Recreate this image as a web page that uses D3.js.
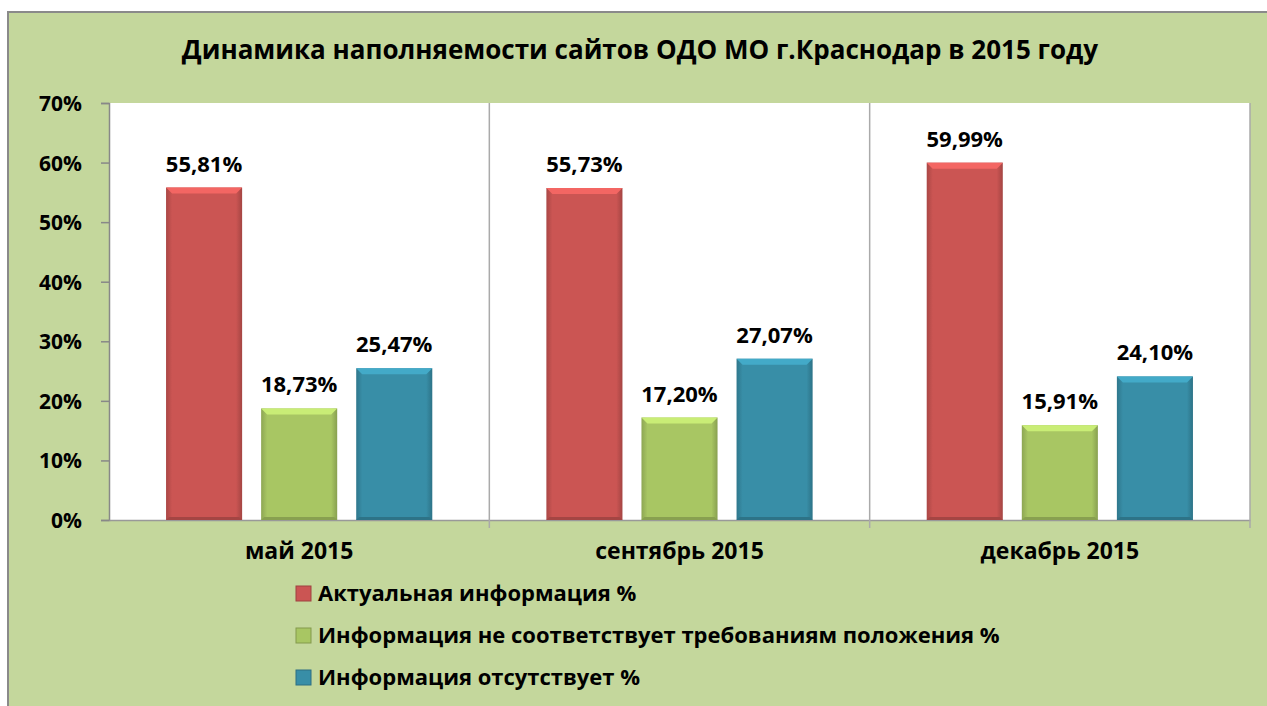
<!DOCTYPE html>
<html>
<head>
<meta charset="utf-8">
<script src="https://cdn.jsdelivr.net/npm/d3@7"></script>
<style>
  body { margin: 0; background: #fff; }
  svg text { font-family: "Open Sans", "Lato", sans-serif; font-weight: bold; fill: #000; }
</style>
</head>
<body>
<div id="chart"></div>
<script>
// данные диаграммы
const categories = ["май 2015", "сентябрь 2015", "декабрь 2015"];
const seriesNames = [
  "Актуальная информация %",
  "Информация не соответствует требованиям положения %",
  "Информация отсутствует %"
];
const actualValues = [55.81, 55.73, 59.99];
const mismatchValues = [18.73, 17.20, 15.91];
const missingValues = [25.47, 27.07, 24.10];
const yTicks = [0, 10, 20, 30, 40, 50, 60, 70];

const seriesColors = ["#CB5553", "#A8C663", "#388EA7"];
const seriesValues = [actualValues, mismatchValues, missingValues];

const W = 1267, H = 706;
const svg = d3.select("#chart").append("svg").attr("width", W).attr("height", H);

// фон / рамка
svg.append("rect").attr("x", 8).attr("y", 12).attr("width", W + 10).attr("height", H + 10)
  .attr("fill", "#C4D79C").attr("stroke", "#8a8a8a").attr("stroke-width", 2);

const plot = {left: 109, right: 1250, top: 103, bottom: 520};

svg.append("rect").attr("x", plot.left).attr("y", plot.top)
  .attr("width", plot.right - plot.left).attr("height", plot.bottom - plot.top)
  .attr("fill", "#fff");

svg.append("text").attr("x", 640).attr("y", 59).attr("text-anchor", "middle")
  .style("font-size", "26px")
  .text("Динамика наполняемости сайтов ОДО МО г.Краснодар в 2015 году");

const y = d3.scaleLinear().domain([0, 70]).range([plot.bottom, plot.top]);
const x0 = d3.scaleBand().domain(categories).range([plot.left, plot.right]).padding(0);
const x1 = d3.scaleBand().domain(d3.range(seriesNames.length))
  .range([0, x0.bandwidth()]).paddingInner(0.2).paddingOuter(0.6);

// ось Y
const yAxis = svg.append("g").attr("transform", `translate(${plot.left},0)`)
  .call(d3.axisLeft(y).tickValues(yTicks).tickFormat(d => d + "%").tickSize(8).tickPadding(19));
yAxis.select(".domain").attr("stroke", "#888").attr("stroke-width", 1.5);
yAxis.selectAll(".tick line").attr("stroke", "#888").attr("stroke-width", 1.5);
yAxis.selectAll(".tick text").style("font-size", "21px").attr("dy", "0.36em");

// ось X
const xAxis = svg.append("g").attr("transform", `translate(0,${plot.bottom})`)
  .call(d3.axisBottom(x0).tickSize(0).tickPadding(23));
xAxis.select(".domain").attr("stroke", "#999").attr("stroke-width", 1.5);
xAxis.selectAll(".tick text").style("font-size", "23px");

// разделители категорий
const seps = categories.map(c => x0(c)).concat([plot.right]).slice(1);
svg.selectAll(".sep").data(seps).join("line").attr("class", "sep")
  .attr("x1", d => d).attr("x2", d => d)
  .attr("y1", plot.top)
  .attr("y2", plot.bottom + 8)
  .attr("stroke", "#aaa").attr("stroke-width", 1.5);

// градиенты для объёма
const defs = svg.append("defs");
seriesColors.forEach((c, i) => {
  const g = defs.append("linearGradient").attr("id", "grad" + i).attr("x1", 0).attr("x2", 1).attr("y1", 0).attr("y2", 0);
  g.append("stop").attr("offset", "0%").attr("stop-color", d3.color(c).darker(0.5));
  g.append("stop").attr("offset", "8%").attr("stop-color", c);
  g.append("stop").attr("offset", "92%").attr("stop-color", c);
  g.append("stop").attr("offset", "100%").attr("stop-color", d3.color(c).darker(0.6));
});

const barData = [];
categories.forEach((cat, ci) => {
  seriesValues.forEach((vals, si) => barData.push({cat, si, v: vals[ci]}));
});

const bars = svg.append("g");
bars.selectAll("rect.bar").data(barData).join("rect").attr("class", "bar")
  .attr("x", d => x0(d.cat) + x1(d.si))
  .attr("y", d => y(d.v))
  .attr("width", x1.bandwidth())
  .attr("height", d => y(0) - y(d.v))
  .attr("fill", d => `url(#grad${d.si})`);

// светлая фаска сверху
bars.selectAll("path.top").data(barData).join("path").attr("class", "top")
  .attr("d", d => {
    const bx = x0(d.cat) + x1(d.si), by = y(d.v), bw = x1.bandwidth(), b = 6;
    return `M${bx},${by}L${bx + bw},${by}L${bx + bw - b},${by + b}L${bx + b},${by + b}Z`;
  })
  .attr("fill", d => d3.color(seriesColors[d.si]).brighter(0.5));
// тёмная фаска снизу
bars.selectAll("path.bot").data(barData).join("path").attr("class", "bot")
  .attr("d", d => {
    const bx = x0(d.cat) + x1(d.si), by = y(0), bw = x1.bandwidth(), b = 3;
    return `M${bx},${by}L${bx + bw},${by}L${bx + bw - b},${by - b}L${bx + b},${by - b}Z`;
  })
  .attr("fill", d => d3.color(seriesColors[d.si]).darker(0.6));

// подписи значений
svg.selectAll("text.val").data(barData).join("text").attr("class", "val")
  .attr("x", d => x0(d.cat) + x1(d.si) + x1.bandwidth() / 2)
  .attr("y", d => y(d.v) - 16)
  .attr("text-anchor", "middle")
  .style("font-size", "22px")
  .text(d => d.v.toFixed(2).replace(".", ",") + "%");

// легенда
const legend = svg.append("g");
seriesNames.forEach((name, i) => {
  const ly = 593 + i * 42;
  legend.append("rect").attr("x", 296).attr("y", ly - 7).attr("width", 15).attr("height", 15)
    .attr("fill", seriesColors[i]).attr("stroke", d3.color(seriesColors[i]).darker(0.7)).attr("stroke-width", 1);
  legend.append("text").attr("x", 318).attr("y", ly).attr("dy", "0.36em")
    .style("font-size", "22px").text(name);
});
</script>
</body>
</html>
